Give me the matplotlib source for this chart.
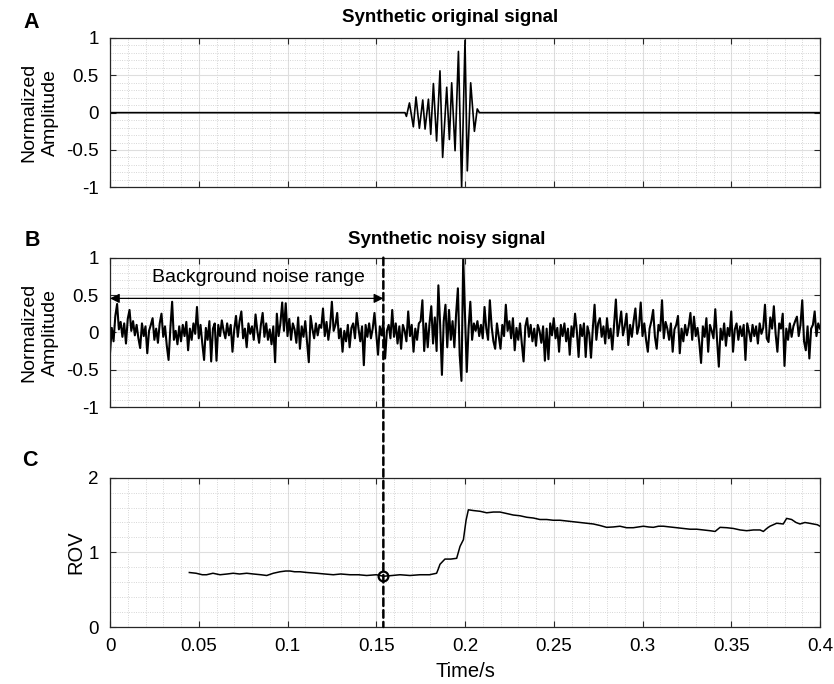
import numpy as np
import matplotlib
matplotlib.use("Agg")
import matplotlib.pyplot as plt
from matplotlib.ticker import MultipleLocator, FixedLocator, FixedFormatter
from matplotlib.patches import ConnectionPatch

plt.rcParams['font.family'] = ['Liberation Sans', 'DejaVu Sans']

# ---------------- data ----------------
# Panel A: synthetic original signal (burst peaks)
orig_t = [0.0, 0.1662, 0.1670, 0.1687, 0.1709, 0.1724, 0.1743, 0.1762, 0.1775,
          0.1794, 0.1807, 0.1822, 0.1840, 0.1859, 0.1874, 0.1897, 0.1912, 0.1925,
          0.1944, 0.1963, 0.1981, 0.2000, 0.2013, 0.2032, 0.2053, 0.2069, 0.2081, 0.4]
orig_amp = [0.0, 0.0, -0.05, 0.13, -0.19, 0.21, -0.21, 0.17, -0.22,
            0.18, -0.29, 0.39, -0.38, 0.56, -0.60, 0.34, -0.36, 0.40,
            -0.51, 0.82, -1.00, 0.97, -0.78, 0.40, -0.25, 0.05, 0.0, 0.0]

# Panel B: synthetic noisy signal, sampled every 1 ms from 0 to 0.4 s
noisy_dt = 0.001
noisy_amp = [
    -0.28, 0.06, -0.12, 0.22, 0.38, 0.04, 0.14, -0.06, 0.12, -0.15, 0.18, 0.30, 0.02, 0.15, -0.04, 0.10, -0.08, -0.21, 0.12, -0.05,
    0.08, -0.28, 0.02, 0.10, 0.19, -0.10, 0.05, -0.14, 0.12, 0.25, -0.06, 0.08, -0.18, -0.37, 0.05, 0.41, -0.10, 0.02, -0.16, 0.08,
    -0.12, 0.10, -0.05, 0.14, -0.24, 0.05, -0.10, 0.12, -0.02, 0.34, -0.08, 0.10, -0.15, -0.37, 0.06, -0.10, 0.15, -0.39, 0.05, 0.12,
    -0.38, 0.10, -0.05, 0.16, 0.02, -0.08, 0.12, -0.04, 0.10, -0.26, 0.04, 0.22, -0.06, 0.15, 0.28, -0.08, 0.05, -0.20, 0.12, -0.02,
    0.08, -0.10, 0.24, 0.02, -0.14, 0.10, 0.26, -0.06, 0.12, -0.10, 0.04, -0.16, 0.08, -0.40, 0.25, -0.05, 0.12, 0.40, 0.02, 0.39,
    -0.05, 0.18, -0.10, 0.12, 0.04, -0.14, 0.20, -0.22, 0.08, -0.06, 0.15, -0.12, -0.40, 0.22, 0.05, -0.08, 0.12, -0.04, 0.10, 0.06,
    0.32, -0.05, 0.14, -0.10, 0.08, 0.41, 0.02, 0.10, 0.26, -0.08, 0.05, -0.26, 0.02, -0.12, 0.10, -0.20, 0.06, 0.12, -0.08, 0.26,
    0.05, -0.12, 0.08, -0.44, 0.10, -0.06, 0.12, -0.08, 0.05, 0.26, -0.02, -0.30, 0.08, -0.04, 0.14, -0.35, 0.02, 0.10, -0.08, 0.30,
    -0.06, 0.12, -0.15, 0.08, -0.22, 0.10, 0.02, -0.12, 0.28, -0.05, 0.10, -0.26, 0.05, -0.10, 0.12, 0.15, 0.43, -0.25, 0.12, -0.20,
    0.12, 0.35, -0.15, 0.20, -0.25, 0.63, 0.10, -0.57, 0.15, 0.37, -0.20, 0.30, -0.10, 0.15, -0.20, 0.25, 0.59, -0.30, -0.65, 1.00,
    0.25, -0.53, 0.05, 0.41, -0.10, 0.12, 0.02, 0.15, -0.05, 0.10, -0.08, 0.34, 0.05, -0.10, 0.43, 0.08, -0.12, -0.22, 0.12, -0.05,
    -0.22, 0.10, -0.05, 0.37, 0.02, 0.15, -0.08, 0.19, -0.24, 0.06, -0.10, 0.12, -0.15, -0.39, 0.08, 0.19, -0.06, 0.10, -0.12, 0.05,
    -0.18, 0.10, 0.02, -0.14, 0.08, -0.38, 0.05, -0.36, 0.12, -0.04, 0.19, -0.08, 0.06, -0.26, 0.10, -0.05, 0.12, -0.12, 0.05, -0.30,
    0.08, -0.06, 0.25, 0.02, -0.33, 0.10, -0.05, 0.12, -0.33, 0.08, -0.02, -0.34, 0.05, 0.37, -0.10, 0.12, 0.19, -0.06, 0.08, -0.15,
    0.19, -0.08, 0.05, -0.23, 0.10, 0.44, -0.05, 0.10, 0.28, -0.04, 0.08, 0.25, -0.17, 0.10, -0.06, 0.15, 0.32, -0.02, 0.08, 0.40,
    -0.05, 0.12, -0.10, -0.26, 0.05, 0.15, 0.30, -0.06, -0.22, 0.10, 0.02, 0.43, -0.08, 0.14, 0.05, -0.10, 0.12, -0.26, 0.04, 0.10,
    0.22, -0.28, 0.05, -0.12, 0.10, -0.04, 0.08, 0.26, -0.10, 0.21, -0.05, 0.06, -0.14, -0.41, 0.08, -0.06, 0.19, -0.26, 0.10, 0.02,
    -0.08, 0.31, -0.10, -0.46, 0.05, -0.10, 0.12, -0.18, 0.06, -0.05, 0.28, -0.26, 0.04, 0.12, -0.10, 0.08, -0.05, 0.10, -0.37, 0.12,
    0.01, -0.12, 0.10, -0.05, 0.08, -0.15, 0.12, -0.02, 0.06, 0.37, -0.08, -0.13, 0.20, 0.05, 0.35, -0.02, -0.26, 0.12, 0.05, 0.25,
    -0.45, 0.05, -0.10, 0.12, -0.06, 0.08, 0.15, 0.21, -0.05, 0.10, 0.43, -0.12, -0.24, 0.08, -0.35, 0.05, 0.10, 0.28, -0.05, 0.12,
    0.05,
]

# Panel C: ROV curve
rov_t = [0.0447, 0.0485, 0.0520, 0.0544, 0.0580, 0.0620, 0.0660, 0.0694, 0.0730,
         0.0770, 0.0808, 0.0850, 0.0883, 0.0920, 0.0958, 0.0990, 0.1014, 0.1040,
         0.1070, 0.1110, 0.1164, 0.1210, 0.1258, 0.1300, 0.1352, 0.1400, 0.1446,
         0.1500, 0.1540, 0.1590, 0.1634, 0.1690, 0.1746, 0.1800, 0.1840, 0.1850,
         0.1859, 0.1887, 0.1920, 0.1953, 0.1972, 0.1991, 0.2006, 0.2019, 0.2047,
         0.2085, 0.2122, 0.2160, 0.2197, 0.2235, 0.2272, 0.2310, 0.2348, 0.2385,
         0.2422, 0.2460, 0.2497, 0.2535, 0.2573, 0.2610, 0.2648, 0.2685, 0.2723,
         0.2760, 0.2798, 0.2835, 0.2873, 0.2910, 0.2948, 0.3005, 0.3035, 0.3061,
         0.3090, 0.3118, 0.3155, 0.3193, 0.3230, 0.3268, 0.3305, 0.3343, 0.3380,
         0.3409, 0.3437, 0.3475, 0.3512, 0.3550, 0.3587, 0.3625, 0.3662, 0.3681,
         0.3700, 0.3718, 0.3756, 0.3793, 0.3812, 0.3840, 0.3865, 0.3887, 0.3915,
         0.3940, 0.3962, 0.3985, 0.4000]
rov_val = [0.73, 0.72, 0.70, 0.70, 0.72, 0.70, 0.71, 0.72, 0.71,
           0.72, 0.71, 0.70, 0.69, 0.72, 0.74, 0.75, 0.75, 0.74,
           0.74, 0.73, 0.72, 0.71, 0.70, 0.71, 0.70, 0.70, 0.69,
           0.70, 0.68, 0.69, 0.70, 0.69, 0.70, 0.70, 0.72, 0.78,
           0.84, 0.91, 0.91, 0.92, 1.08, 1.17, 1.43, 1.57, 1.56,
           1.55, 1.53, 1.54, 1.54, 1.52, 1.50, 1.49, 1.47, 1.46,
           1.44, 1.44, 1.43, 1.43, 1.42, 1.41, 1.40, 1.39, 1.38,
           1.36, 1.335, 1.34, 1.35, 1.33, 1.33, 1.35, 1.34, 1.335,
           1.35, 1.35, 1.34, 1.33, 1.32, 1.31, 1.31, 1.30, 1.29,
           1.28, 1.335, 1.33, 1.32, 1.30, 1.29, 1.30, 1.30, 1.28,
           1.32, 1.35, 1.39, 1.38, 1.455, 1.44, 1.40, 1.38, 1.40,
           1.39, 1.38, 1.37, 1.35]

onset_time = 0.154
onset_rov = 0.68

x_ticks = [0, 0.05, 0.1, 0.15, 0.2, 0.25, 0.3, 0.35, 0.4]
x_tick_labels = ['0', '0.05', '0.1', '0.15', '0.2', '0.25', '0.3', '0.35', '0.4']
amp_ticks = [-1, -0.5, 0, 0.5, 1]
amp_tick_labels = ['-1', '-0.5', '0', '0.5', '1']
rov_ticks = [0, 1, 2]
rov_tick_labels = ['0', '1', '2']

# ---------------- figure ----------------
W, H = 834, 684
fig = plt.figure(figsize=(W / 100, H / 100), dpi=100)

left, width, height = 110 / W, 710 / W, 149.3 / H
axA = fig.add_axes([left, 1 - 187.3 / H, width, height])
axB = fig.add_axes([left, 1 - 407.0 / H, width, height])
axC = fig.add_axes([left, 1 - 627.0 / H, width, height])

spine_col = '#262626'
tick_fs = 13.5


def style(ax, yticks, ylabels, yminor, show_x):
    ax.set_xlim(0, 0.4)
    ax.xaxis.set_major_locator(FixedLocator(x_ticks))
    ax.xaxis.set_minor_locator(MultipleLocator(0.01))
    ax.yaxis.set_major_locator(FixedLocator(yticks))
    ax.yaxis.set_major_formatter(FixedFormatter(ylabels))
    ax.yaxis.set_minor_locator(MultipleLocator(yminor))
    if show_x:
        ax.xaxis.set_major_formatter(FixedFormatter(x_tick_labels))
    else:
        ax.set_xticklabels([])
    ax.tick_params(which='major', direction='in', top=True, right=True,
                   length=4.5, width=0.8, color=spine_col, labelsize=tick_fs,
                   pad=8)
    ax.tick_params(which='minor', length=0, top=True, right=True)
    ax.grid(which='major', color='#dedede', lw=0.8, ls='-')
    ax.grid(which='minor', color='#c8c8c8', lw=0.6, ls=(0, (1, 1.8)))
    ax.set_axisbelow(True)
    for s in ax.spines.values():
        s.set_color(spine_col)
        s.set_linewidth(0.9)


style(axA, amp_ticks, amp_tick_labels, 0.1, False)
style(axB, amp_ticks, amp_tick_labels, 0.1, False)
style(axC, rov_ticks, rov_tick_labels, 0.2, True)
axA.set_ylim(-1, 1)
axB.set_ylim(-1, 1)
axC.set_ylim(0, 2)

# Panel A
axA.plot(orig_t, orig_amp, color='black', lw=1.2)
# Panel B
noisy_t = np.arange(len(noisy_amp)) * noisy_dt
axB.plot(noisy_t, noisy_amp, color='black', lw=1.5)
# Panel C
axC.plot(rov_t, rov_val, color='black', lw=1.1)
axC.plot([onset_time], [onset_rov], marker='o', ms=7, mfc='none',
         mec='black', mew=1.6, zorder=6)

# arrow + annotation in B
axB.annotate('', xy=(0.0, 0.455), xytext=(onset_time, 0.455),
             arrowprops=dict(arrowstyle='<|-|>', color='black', lw=0.9,
                             mutation_scale=14, shrinkA=0, shrinkB=0))
axB.text(0.0834, 0.73, 'Background noise range', ha='center', va='center',
         fontsize=14)

# dashed onset line spanning B and C
con = ConnectionPatch(xyA=(onset_time, 1.0), coordsA=axB.transData,
                      xyB=(onset_time, 0.0), coordsB=axC.transData,
                      color='black', lw=1.8, ls=(0, (3, 1.7)), zorder=5)
fig.add_artist(con)

# labels
axA.set_ylabel('Normalized\nAmplitude', fontsize=14, labelpad=5,
               linespacing=1.35)
axB.set_ylabel('Normalized\nAmplitude', fontsize=14, labelpad=5,
               linespacing=1.35)
axC.set_ylabel('ROV', fontsize=14.5, labelpad=2)
axC.set_xlabel('Time/s', fontsize=14.5, labelpad=5)

fig.text(450 / W, 1 - 18 / H, 'Synthetic original signal', ha='center',
         va='center', fontsize=13.5, fontweight='bold')
fig.text(447 / W, 1 - 240 / H, 'Synthetic noisy signal', ha='center',
         va='center', fontsize=13.5, fontweight='bold')

for lab, (px, py) in zip(['A', 'B', 'C'], [(31, 22), (32, 240), (30, 461)]):
    fig.text(px / W, 1 - py / H, lab, ha='center', va='center',
             fontsize=15.5, fontweight='bold')

fig.savefig('out.png', dpi=100)
